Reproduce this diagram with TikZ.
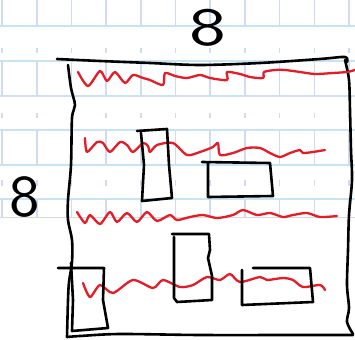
\documentclass[tikz,border=0pt]{standalone}
\usepackage{fontspec}
\begin{document}
\begin{tikzpicture}[x=1pt,y=-1pt,
  gridh/.style={draw={rgb,255:red,200;green,226;blue,246},line width=1.6pt},
  gridv/.style={draw={rgb,255:red,208;green,218;blue,240},line width=1.6pt},
  pen/.style={draw=black,line width=2.6pt,line cap=round,line join=round},
  redpen/.style={draw={rgb,255:red,228;green,28;blue,40},line width=2.3pt,line cap=round,line join=round},
  digit/.style={inner sep=0pt,font=\sffamily\fontsize{54}{54}\selectfont}]
\useasboundingbox (0,0) rectangle (355,339);
\fill[white] (0,0) rectangle (355,339);
% graph paper
\foreach \y in {26,61,96,130,165,199} \draw[gridh] (0,\y) -- (355,\y);
\draw[draw={rgb,255:red,215;green,215;blue,220},line width=1pt] (0,217) -- (355,217);
\foreach \k in {0,...,10} {
  \pgfmathsetmacro{\xx}{2+34.7*\k}
  \draw[gridv] (\xx,0) -- (\xx,26);
  \draw[gridv] (\xx,61) -- (\xx,96);
  \draw[gridv] (\xx,130) -- (\xx,165);
  \draw[gridv] (\xx,199) -- (\xx,217);
  \draw[gridv] (\xx,48) -- (\xx,53);
  \draw[gridv] (\xx,113) -- (\xx,118);
  \draw[gridv] (\xx,180) -- (\xx,186);
}
% labels
\node[digit,xscale=1.45] (top8) at (208,27.5) {8};
\node[digit,yscale=1.1,xscale=1.2] (left8) at (25,197.5) {8};
% big box
\draw[pen] plot[smooth,tension=0.5] coordinates {(57,59) (100,61) (150,63) (200,65) (260,63) (320,59) (345,57) (347,62)};
\draw[pen] plot[smooth,tension=0.5] coordinates {(345,60) (349,80) (350,110) (351,150) (352,180) (349,215) (348,250) (347,285) (349,308) (347,322) (353,334)};
\draw[pen] plot[smooth,tension=0.5] coordinates {(353,335) (300,335) (200,335) (120,334) (80,336) (67,337)};
\draw[pen] plot[smooth,tension=0.5] coordinates {(67,337) (68,300) (69,282) (72,262) (72,240) (68,220) (68,200) (71,165) (72,118) (75,105) (71,88) (68,65)};
% red waves
\draw[redpen] plot[smooth,tension=0.45] coordinates {(78,72) (88,86) (100,71) (107,81) (115,72) (125,83) (133,75) (143,78) (150,80) (163,85) (165,73) (175,76) (187,78) (200,75) (210,78) (227,80) (227,72) (240,74) (250,77) (263,78) (264,72) (275,70) (285,70) (300,72) (315,74) (333,73) (347,72) (355,70)};
\draw[redpen] plot[smooth,tension=0.45] coordinates {(85,138) (87,152) (97,142) (103,143) (110,152) (120,142) (127,145) (133,152) (143,143) (148,146) (150,152) (157,145) (173,143) (187,155) (200,152) (213,147) (218,143) (220,155) (233,153) (247,148) (260,148) (270,153) (280,157) (290,153) (300,150) (303,153) (313,152) (325,150)};
\draw[redpen] plot[smooth,tension=0.45] coordinates {(77,212) (85,223) (90,215) (100,224) (110,212) (117,222) (127,213) (137,222) (147,212) (157,221) (170,215) (177,220) (190,217) (203,215) (217,218) (233,215) (243,210) (257,215) (270,213) (283,217) (293,215) (307,213) (320,217) (337,216)};
\draw[redpen] plot[smooth,tension=0.45] coordinates {(83,283) (90,297) (100,285) (113,293) (133,280) (153,288) (163,280) (180,287) (193,285) (207,277) (220,280) (230,274) (240,282) (260,277) (267,280) (283,278) (293,280) (303,287) (320,285) (325,290)};
% rectangles
\draw[pen] (137,131) -- (167,129) -- (169,165) -- (172,198) -- (142,201) -- (144,165) -- (141,133);
\draw[pen] (202,162) -- (270,163) -- (273,196) -- (208,197) -- (208,163);
\draw[pen] (172,234) -- (209,234) -- (210,250) -- (208,258) -- (212,276) -- (212,300) -- (177,302) -- (174,298) -- (174,237);
\draw[pen] (58,268) -- (104,268) -- (103,300) -- (108,328) -- (72,331) -- (73,300) -- (71,263);
\draw[pen] (253,268) -- (310,268) -- (313,302) -- (242,305) -- (242,270);
\end{tikzpicture}
\end{document}
